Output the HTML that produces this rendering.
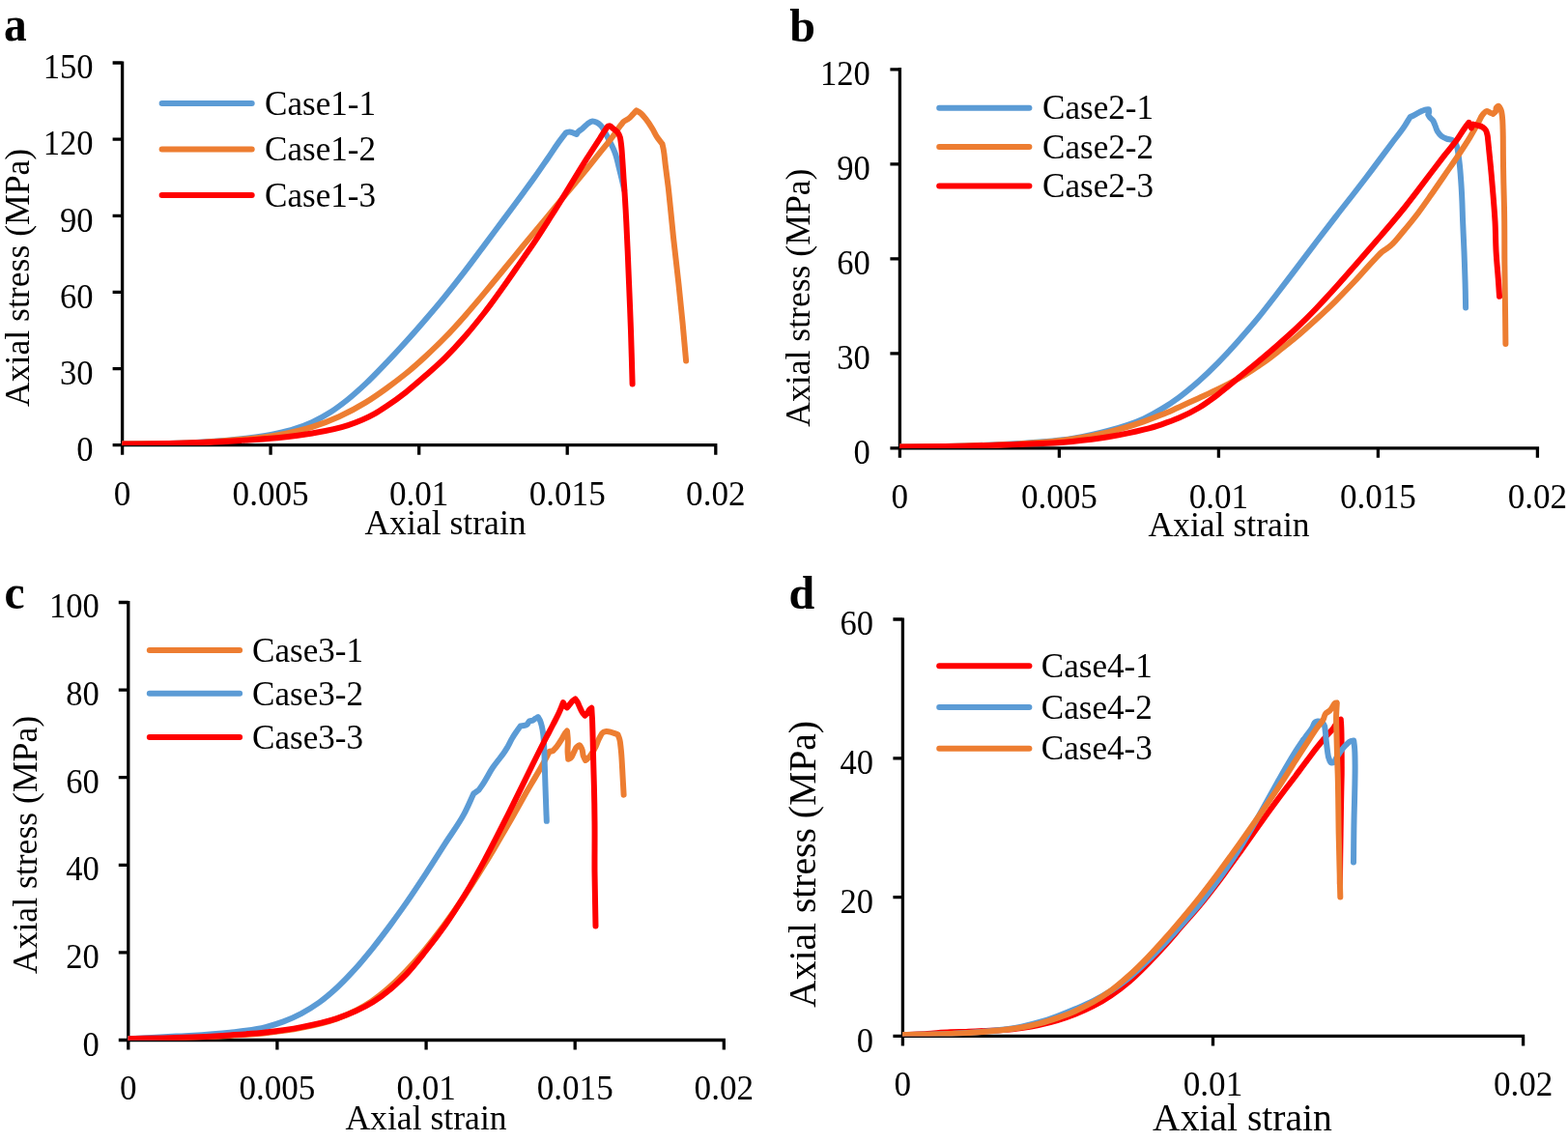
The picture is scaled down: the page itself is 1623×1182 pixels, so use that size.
<!DOCTYPE html>
<html lang="en">
<head>
<meta charset="utf-8">
<title>Axial stress versus axial strain curves</title>
<style>
html,body{margin:0;padding:0;background:#fff;}
body{width:1623px;height:1182px;overflow:hidden;}
svg{display:block;}
text{font-family:"Liberation Serif","Times New Roman",Times,serif;fill:#000;}
.ax{stroke:#000;stroke-width:3.3;fill:none;stroke-linecap:butt;}
.cv{fill:none;stroke-width:6;stroke-linecap:round;stroke-linejoin:round;}
.lt{font-weight:bold;font-size:48px;}
</style>
</head>
<body>
<svg width="1623" height="1182" viewBox="0 0 1623 1182" role="img" aria-label="Axial stress versus axial strain curves for four groups of cases">
<rect x="0" y="0" width="1623" height="1182" fill="#ffffff"/>
<g id="panel-a">
<path class="ax" d="M126.6 63.4V470.7M116.6 460.7H742.4M116.6 381.6H126.6M116.6 302.4H126.6M116.6 223.3H126.6M116.6 144.1H126.6M116.6 65H126.6M280.1 460.7V470.7M433.7 460.7V470.7M587.2 460.7V470.7M740.8 460.7V470.7"/>
<clipPath id="clip-a"><rect x="126.3" y="45" width="654.2" height="415.9"/></clipPath>
<g clip-path="url(#clip-a)">
<path class="cv" stroke="#5B9BD5" d="M126.6 459.6C149.1 459.2 171.6 459.5 194 458.4C212.7 457.5 231.4 456.5 250 454.3C262.2 452.8 274.4 451.5 286.4 448.8C292.6 447.4 298.9 445.9 305 443.9C311.2 441.9 317.4 439.6 323.3 436.9C329.7 433.9 335.9 430.6 341.8 426.8C348.1 422.8 354.1 418.2 360 413.5C366.5 408.3 372.7 402.6 378.8 396.9C386.1 390 393 382.7 400 375.4C406.9 368.2 413.6 360.9 420.3 353.5C427.2 346 433.9 338.3 440.6 330.5C446.8 323.3 452.9 316.1 458.9 308.8C466.5 299.5 473.9 290.1 481.2 280.6C488.1 271.7 494.7 262.6 501.5 253.6C508.3 244.5 515 235.5 521.8 226.4C528.6 217.3 535.4 208.2 542.1 199C545.9 193.8 549.8 188.6 553.5 183.3C558.1 176.8 562.6 170.2 567.1 163.7C571.6 157.2 575.8 150.4 580.6 144.1C582.4 141.7 584.2 139.4 586 137.1C587.1 136.9 588.3 136.4 589.4 136.4C590.8 136.4 592.2 137.1 593.5 137.6C594.6 138 595.7 138.5 596.8 139C597.5 138 598.1 136.9 598.9 136C599.8 135 601.1 134.4 602.2 133.6C604.1 132.1 605.7 130 607.7 128.6C609.4 127.4 611.2 125.6 613.1 125.5C614.6 125.4 616.4 126.1 617.8 126.8C619.3 127.5 620.7 128.7 621.9 129.9C624 131.9 625.1 134.8 626.6 137.4C628.1 140 629.3 142.8 630.7 145.5C632 148.2 633.5 150.8 634.7 153.6C635.7 155.8 636.6 158.1 637.4 160.4C638.9 164.8 639.7 169.4 640.8 173.9C641.7 177.5 642.6 181.1 643.5 184.7C644.5 188.8 645.3 192.8 646.2 196.9"/>
<path class="cv" stroke="#ED7D31" d="M126.6 459.6C149.1 459.2 171.6 459.5 194 458.5C212.7 457.7 231.4 456.7 250 454.8C262.2 453.6 274.4 452.5 286.4 450.4C298.8 448.2 311.3 445.6 323.3 441.8C332.7 438.8 342 435.3 351 431.2C360.5 426.9 369.9 421.9 378.8 416.4C386.1 411.9 393.1 407 400 402C406.9 397 413.7 391.8 420.3 386.5C427.3 380.8 434 374.8 440.6 368.7C447.5 362.3 454.3 355.8 460.9 349C467.9 341.9 474.6 334.4 481.2 326.9C488.1 319.1 494.8 311.1 501.5 303.1C508.3 294.9 515.1 286.7 521.8 278.5C528.6 270.2 535.3 261.9 542.1 253.6C550.4 243.6 558.8 233.6 567.1 223.6C571.6 218.1 576.1 212.7 580.6 207.2C585.1 201.8 589.6 196.4 594.1 191C598.6 185.5 603.2 180 607.7 174.5C612.2 168.9 616.7 163.3 621.2 157.7C625.7 152 630.4 146.5 634.7 140.7C637.5 136.9 639.9 132.9 642.8 129.2C643.7 128.1 644.5 126.9 645.5 125.9C647.1 124.4 649.3 123.9 651 122.5C652.5 121.3 653.7 119.8 655 118.4C656.3 117.1 657.5 115.7 658.8 114.4C660.2 115.3 661.8 116.1 663.1 117.1C665.2 118.8 666.8 121.1 668.5 123.2C671 126.4 673.2 129.8 675.3 133.3C677.2 136.4 678.6 139.8 680.7 142.8C682.2 144.9 683.9 146.9 685.5 148.9C685.9 150.9 686.4 153 686.8 155C687.8 160.3 688.1 165.8 688.8 171.2C689.7 178.4 690.7 185.6 691.6 192.8C692.6 201.4 693.4 210 694.3 218.6C695.2 227.6 696.1 236.6 697 245.6C698.7 261.8 700.8 278.1 702.5 294.3C703.9 307.7 705.3 321.1 706.6 334.5C707.8 347.5 708.9 360.5 710.1 373.5"/>
<path class="cv" stroke="#FF0000" d="M126.6 459.6C149.1 459.3 171.5 459.3 194 458.6C212.5 458 230.9 457.1 249.4 455.9C261.7 455.2 274.1 454.5 286.4 453.3C298.7 452 311.1 450.7 323.3 448.5C335.7 446.3 348.4 444.1 360.3 440.1C369.8 436.9 379.3 433 388 428.1C392.1 425.8 396.1 423.1 400 420.5C407 415.9 413.7 411 420.3 405.8C427.3 400.3 433.9 394.5 440.6 388.6C447.5 382.5 454.4 376.5 460.9 370.1C468 363.1 474.7 355.8 481.2 348.3C488.2 340.3 494.9 331.9 501.5 323.5C508.5 314.5 515.2 305.1 521.8 295.8C528.7 286.2 535.3 276.3 542.1 266.6C546.1 260.7 550.3 255 554.2 249.1C558.6 242.5 562.8 235.8 567.1 229.1C571.6 222 576.2 214.9 580.6 207.7C585.2 200.4 589.6 192.9 594.1 185.6C598.6 178.3 603.1 170.9 607.7 163.7C612.1 156.7 616.7 149.8 621.2 142.8C623.2 139.6 625 136.2 627.3 133.3C628 132.4 628.6 131 629.6 130.6C630.1 130.4 630.7 130.3 631.2 130.3C632.6 130.3 633.5 132.2 634.7 133.1C636.3 134.4 638.3 135.5 639.5 137.2C640.5 138.6 641.3 140.4 641.8 142.1C642.4 144 642.5 146.2 642.8 148.2C643.6 153.6 643.8 159 644.2 164.4C644.7 171.2 645.1 177.9 645.5 184.7C646 191.5 646.5 198.2 646.9 205C647.4 213.3 647.9 221.7 648.3 230C649.4 251.4 650.2 272.9 651.1 294.3C651.8 310.4 652.4 326.4 653 342.5C653.6 360.8 654.1 379.2 654.6 397.5"/>
</g>
<text transform="translate(96.6 476.9) scale(0.96 1)" font-size="36" text-anchor="end">0</text>
<text transform="translate(96.6 397.8) scale(0.96 1)" font-size="36" text-anchor="end">30</text>
<text transform="translate(96.6 318.6) scale(0.96 1)" font-size="36" text-anchor="end">60</text>
<text transform="translate(96.6 239.5) scale(0.96 1)" font-size="36" text-anchor="end">90</text>
<text transform="translate(96.6 160.3) scale(0.96 1)" font-size="36" text-anchor="end">120</text>
<text transform="translate(96.6 81.2) scale(0.96 1)" font-size="36" text-anchor="end">150</text>
<text transform="translate(126.6 523.4) scale(0.975 1)" font-size="36" text-anchor="middle">0</text>
<text transform="translate(280.1 523.4) scale(0.975 1)" font-size="36" text-anchor="middle">0.005</text>
<text transform="translate(433.7 523.4) scale(0.975 1)" font-size="36" text-anchor="middle">0.01</text>
<text transform="translate(587.2 523.4) scale(0.975 1)" font-size="36" text-anchor="middle">0.015</text>
<text transform="translate(740.8 523.4) scale(0.975 1)" font-size="36" text-anchor="middle">0.02</text>
<text transform="translate(461 553.4) scale(0.99 1)" font-size="36" text-anchor="middle">Axial strain</text>
<text transform="translate(29.8 287.4) rotate(-90) scale(0.99 1)" font-size="36" text-anchor="middle">Axial stress (MPa)</text>
<path class="cv" stroke="#5B9BD5" d="M167.6 106.9H260.7"/>
<text transform="translate(274 119) scale(0.975 1)" font-size="36">Case1-1</text>
<path class="cv" stroke="#ED7D31" d="M167.6 154.6H260.7"/>
<text transform="translate(274 166.4) scale(0.975 1)" font-size="36">Case1-2</text>
<path class="cv" stroke="#FF0000" d="M167.6 202H260.7"/>
<text transform="translate(274 213.7) scale(0.975 1)" font-size="36">Case1-3</text>
<text transform="translate(3.9 42.2) scale(0.95 1)" class="lt" style="font-size:50px">a</text>
</g>
<g id="panel-b">
<path class="ax" d="M931.4 70.1V473.8M921.4 463.8H1593.1M921.4 365.8H931.4M921.4 267.8H931.4M921.4 169.8H931.4M921.4 71.8H931.4M1096.4 463.8V473.8M1261.4 463.8V473.8M1426.4 463.8V473.8M1591.4 463.8V473.8"/>
<clipPath id="clip-b"><rect x="931.1" y="51.8" width="700" height="412.2"/></clipPath>
<g clip-path="url(#clip-b)">
<path class="cv" stroke="#5B9BD5" d="M931.4 462.6C953.9 462.2 976.4 462.2 998.9 461.5C1017.4 460.9 1035.9 460.4 1054.4 459.1C1072.9 457.9 1091.5 457 1109.8 454C1122.2 451.9 1134.7 449.3 1146.8 446C1159.3 442.5 1172 438.9 1183.8 433.4C1190.1 430.5 1196.3 427.1 1202.3 423.4C1208.5 419.7 1214.5 415.6 1220.3 411.3C1227.3 406.1 1234 400.5 1240.6 394.7C1247.6 388.5 1254.3 382 1260.9 375.3C1267.9 368.2 1274.6 360.8 1281.2 353.4C1288.1 345.7 1294.9 337.9 1301.5 329.9C1308.5 321.4 1315.1 312.7 1321.8 304C1328.6 295.2 1335.4 286.3 1342.1 277.4C1348.9 268.5 1355.6 259.5 1362.4 250.5C1369.1 241.7 1375.9 232.9 1382.7 224.1C1388.4 216.7 1394.2 209.4 1400 202C1404.5 196.1 1409 190.4 1413.5 184.5C1418.1 178.5 1422.6 172.5 1427.1 166.4C1431.6 160.4 1436.1 154.3 1440.6 148.2C1445.1 142.2 1450 136.4 1454.1 130.1C1456 127.2 1457.7 124.2 1459.5 121.3C1460.9 120.6 1462.2 119.9 1463.6 119.2C1465.9 118 1468.1 116.6 1470.4 115.5C1471.9 114.8 1473.5 114 1475.1 113.6C1476.3 113.3 1477.6 113.3 1478.8 113.2C1478.9 114.1 1479.3 115 1479.2 115.9C1479.1 116.8 1478.5 117.7 1478.2 118.6C1478.7 119.5 1479.2 120.5 1479.8 121.3C1480.7 122.6 1482.3 123.4 1483.2 124.7C1484.2 126.1 1484.6 127.8 1485.3 129.4C1486.3 131.6 1486.7 134.2 1488 136.2C1489.1 137.9 1490.4 139.7 1492 140.9C1493.6 142.1 1495.5 142.9 1497.4 143.6C1499.6 144.5 1502.4 144.2 1504.2 145.6C1505.7 146.7 1506.8 148.7 1507.6 150.4C1508.8 152.8 1508.8 155.8 1509.3 158.5C1510.1 163 1510.5 167.5 1511 172C1511.6 177.4 1511.9 182.9 1512.3 188.3C1512.8 195.1 1513.1 201.8 1513.4 208.6C1513.7 215.4 1513.8 222.1 1514.1 228.9C1514.5 239.5 1515.1 250 1515.5 260.6C1516 274.1 1516.5 287.7 1516.8 301.2C1516.9 307 1517 312.7 1517.1 318.5"/>
<path class="cv" stroke="#ED7D31" d="M931.4 462.6C953.9 462.3 976.4 462.2 998.9 461.6C1017.4 461.1 1035.9 460.6 1054.4 459.4C1072.9 458.2 1091.5 457.2 1109.8 454.4C1122.2 452.5 1134.6 450.3 1146.8 447.3C1159.3 444.3 1171.7 440.5 1183.8 436.3C1190 434.1 1196.2 431.8 1202.3 429.3C1208.4 426.9 1214.3 424.1 1220.3 421.5C1227.1 418.4 1233.8 415.3 1240.6 412.2C1247.4 409 1254.2 405.9 1260.9 402.6C1267.7 399.3 1274.5 395.8 1281.2 392.1C1284.6 390.2 1288.1 388.4 1291.4 386.3C1294.8 384.2 1298.2 381.9 1301.5 379.6C1304.9 377.3 1308.4 375 1311.7 372.6C1315.1 370.1 1318.4 367.4 1321.8 364.8C1328.6 359.4 1335.5 354.1 1342.1 348.5C1349 342.7 1355.7 336.6 1362.4 330.5C1369.3 324.2 1376.1 317.9 1382.7 311.3C1389.6 304.5 1396.3 297.4 1403 290.3C1409.9 282.9 1416.4 275.1 1423.4 267.9C1425.7 265.5 1427.9 262.8 1430.5 260.7C1432.1 259.5 1433.8 258.4 1435.5 257.3C1437 256.1 1438.6 255 1440 253.8C1444.6 249.8 1448.1 244.7 1452.1 240C1457.4 233.7 1462.7 227.3 1467.7 220.7C1472.4 214.5 1476.8 208.1 1481.2 201.8C1485.8 195.3 1490.2 188.7 1494.7 182.2C1499.2 175.6 1503.9 169.1 1508.3 162.5C1512.9 155.6 1517.5 148.7 1521.8 141.6C1524.6 136.9 1527.2 132.1 1529.9 127.4C1531.7 124.2 1532.8 120.5 1535.3 117.9C1536.3 116.8 1537.4 115 1538.7 114.9C1539.7 114.8 1541 116 1542.1 116.5C1543.2 117 1544.4 117.4 1545.5 117.9C1546.4 117 1547.6 116.3 1548.2 115.2C1548.8 114.1 1548.1 112.4 1548.8 111.4C1549.3 110.7 1550.3 109.9 1550.9 109.8C1552 109.6 1552.9 112.4 1553.6 113.8C1554.5 115.9 1554.6 118.3 1554.9 120.6C1555.5 125.1 1555.4 129.6 1555.6 134.1C1555.9 143.1 1555.8 152.2 1555.9 161.2C1556 170.2 1556.1 179.3 1556.3 188.3C1556.5 197.3 1556.8 206.3 1557 215.3C1557.4 234.9 1557.2 254.5 1557.4 274.1C1557.6 292.2 1557.9 310.2 1558.1 328.3C1558.2 337.5 1558.3 346.8 1558.4 356"/>
<path class="cv" stroke="#FF0000" d="M931.4 462.6C953.9 462.3 976.4 462.2 998.9 461.7C1017.4 461.3 1035.9 460.7 1054.4 460C1072.9 459.2 1091.4 458.7 1109.8 456.9C1122.2 455.7 1134.5 454.3 1146.8 452.3C1159.2 450.2 1171.6 447.9 1183.8 444.7C1190 443.1 1196.2 441.4 1202.3 439.3C1208.4 437.3 1214.4 435.2 1220.3 432.6C1227.3 429.6 1234.1 426.2 1240.6 422.3C1244.1 420.2 1247.5 417.9 1250.8 415.5C1254.2 413.1 1257.6 410.7 1260.9 408.1C1267.9 402.9 1274.4 397.1 1281.2 391.6C1288 386.1 1294.8 380.6 1301.5 375C1308.3 369.3 1315.1 363.6 1321.8 357.7C1328.7 351.7 1335.5 345.7 1342.1 339.5C1349 332.9 1355.8 326.1 1362.4 319.2C1369.3 312.1 1376 304.7 1382.7 297.3C1389.6 289.7 1396.3 281.9 1403 274.2C1409.8 266.4 1416.6 258.6 1423.4 250.8C1428.9 244.4 1434.5 238 1440 231.5C1444.8 225.9 1449.5 220.2 1454.1 214.5C1458.7 208.7 1463.2 202.8 1467.7 196.9C1472.2 191 1476.7 185 1481.2 179C1485.7 173.1 1490.2 167.2 1494.7 161.4C1499.2 155.7 1504.1 150.2 1508.3 144.3C1511.1 140.3 1513.5 136 1516.4 132.1C1517.7 130.3 1519.1 128.6 1520.4 126.8C1521.2 128.7 1522.1 130.5 1522.9 132.4C1523.5 131.1 1524 129.9 1524.6 128.6C1526.4 129 1528.2 129.4 1530 129.9C1531.6 130.4 1533.3 130.7 1534.6 131.6C1535.9 132.4 1537.1 133.5 1537.9 134.8C1538.8 136.2 1539.1 138 1539.5 139.6C1540 141.7 1540.1 143.9 1540.3 146C1540.7 149.7 1541 153.4 1541.4 157.1C1542.1 163.9 1542.8 170.6 1543.4 177.4C1544.2 185.5 1544.8 193.7 1545.5 201.8C1546.2 210.8 1547 219.9 1547.5 228.9C1548.1 239.5 1548 250 1548.6 260.6C1549.1 269.6 1550 278.7 1550.7 287.7C1551.2 294.1 1551.6 300.4 1552 306.8"/>
</g>
<text transform="translate(900.8 480) scale(0.96 1)" font-size="36" text-anchor="end">0</text>
<text transform="translate(900.8 382) scale(0.96 1)" font-size="36" text-anchor="end">30</text>
<text transform="translate(900.8 284) scale(0.96 1)" font-size="36" text-anchor="end">60</text>
<text transform="translate(900.8 186) scale(0.96 1)" font-size="36" text-anchor="end">90</text>
<text transform="translate(900.8 88) scale(0.96 1)" font-size="36" text-anchor="end">120</text>
<text transform="translate(931.4 525.9) scale(0.975 1)" font-size="36" text-anchor="middle">0</text>
<text transform="translate(1096.4 525.9) scale(0.975 1)" font-size="36" text-anchor="middle">0.005</text>
<text transform="translate(1261.4 525.9) scale(0.975 1)" font-size="36" text-anchor="middle">0.01</text>
<text transform="translate(1426.4 525.9) scale(0.975 1)" font-size="36" text-anchor="middle">0.015</text>
<text transform="translate(1591.4 525.9) scale(0.975 1)" font-size="36" text-anchor="middle">0.02</text>
<text transform="translate(1272 554.8) scale(0.99 1)" font-size="36" text-anchor="middle">Axial strain</text>
<text transform="translate(838 308.2) rotate(-90) scale(0.99 1)" font-size="36" text-anchor="middle">Axial stress (MPa)</text>
<path class="cv" stroke="#5B9BD5" d="M972.2 111.7H1065.4"/>
<text transform="translate(1079 123.4) scale(0.975 1)" font-size="36">Case2-1</text>
<path class="cv" stroke="#ED7D31" d="M972.2 151.9H1065.4"/>
<text transform="translate(1079 164.1) scale(0.975 1)" font-size="36">Case2-2</text>
<path class="cv" stroke="#FF0000" d="M972.2 192.4H1065.4"/>
<text transform="translate(1079 204.4) scale(0.975 1)" font-size="36">Case2-3</text>
<text transform="translate(817.3 42.8)" class="lt">b</text>
</g>
<g id="panel-c">
<path class="ax" d="M132.8 621.9V1086.5M122.8 1076.5H750.9M122.8 985.9H132.8M122.8 895.3H132.8M122.8 804.7H132.8M122.8 714.1H132.8M122.8 623.5H132.8M286.9 1076.5V1086.5M441.1 1076.5V1086.5M595.2 1076.5V1086.5M749.3 1076.5V1086.5"/>
<clipPath id="clip-c"><rect x="132.5" y="603.5" width="656.5" height="473.2"/></clipPath>
<g clip-path="url(#clip-c)">
<path class="cv" stroke="#ED7D31" d="M132.8 1075.2C149.4 1074.9 165.9 1074.7 182.5 1074.2C201 1073.6 219.5 1073 237.9 1071.9C250.2 1071.1 262.6 1070.6 274.9 1069.2C287.2 1067.9 299.6 1066.4 311.8 1063.9C324.3 1061.4 336.9 1058.8 348.8 1054.4C361.2 1049.7 373.5 1043.8 384.5 1036.4C390.8 1032.2 396.8 1027.3 402.5 1022.3C408.2 1017.3 413.5 1011.9 418.8 1006.5C425.9 999.3 432.6 991.7 439.1 983.9C446.2 975.5 452.8 966.7 459.4 957.9C466.4 948.4 473.1 938.8 479.7 929C486.7 918.6 493.4 907.9 500 897.2C503.6 891.4 507.2 885.6 510.7 879.7C513.4 875.1 516.1 870.4 518.8 865.8C522.2 859.9 525.6 854.1 529 848.2C532.4 842.2 535.7 836.2 539.1 830.2C542.6 824 546.1 817.9 549.7 811.8C553.2 805.7 557 799.7 560.4 793.5C562.4 789.9 564.4 786.3 566.3 782.6C567.1 781.1 567.8 779.5 568.6 778C569.9 777.7 571.3 777.3 572.6 777C573.8 775.6 575.1 774.2 576.2 772.8C578 770.5 579.7 767.9 581.2 765.4C582.3 763.5 583.1 761.5 584.4 759.7C585.2 758.6 586.1 757.6 587 756.5C587.3 759.7 587.7 762.8 587.8 766C588 770.2 587.4 774.5 587.6 778.7C587.7 781 588 783.4 588.2 785.7C589.1 785.3 590.1 785 590.8 784.4C592.5 783.1 592.9 780.6 593.9 778.7C595 776.8 595.5 774.4 597.1 773C597.8 772.3 598.9 771.3 599.6 771.3C600.7 771.3 601.5 773.6 602.2 774.9C603.4 777.2 602.9 780.1 603.8 782.5C604.4 784.1 605.3 785.5 606 787C606.8 786.3 607.7 785.7 608.5 785C609.7 783.9 610.7 782.5 611.7 781.2C613.7 778.5 615.3 775.4 616.8 772.4C618.2 769.5 619 766.3 620.6 763.5C621.7 761.5 622.5 758.8 624.4 757.8C625.3 757.3 626.5 757 627.6 756.9C629.5 756.7 631.4 757.6 633.3 758.1C635.4 758.7 637.5 759.6 639.6 760.3C640.2 762.2 641 764.1 641.5 766C642.3 769.3 642.4 772.8 642.8 776.2C643.5 782.5 643.7 788.9 644.1 795.2C644.4 800.7 644.7 806.2 645 811.7C645.2 815.4 645.4 819 645.6 822.7"/>
<path class="cv" stroke="#5B9BD5" d="M132.8 1075.2C149.4 1074.3 165.9 1073.6 182.5 1072.6C201 1071.5 219.5 1070.9 237.9 1068.7C250.3 1067.3 262.8 1066.2 274.9 1063.1C281.1 1061.5 287.4 1059.7 293.4 1057.4C299.7 1055 305.9 1052.2 311.8 1049.1C318.2 1045.7 324.4 1041.8 330.3 1037.6C336.8 1032.9 342.9 1027.6 348.8 1022.2C355.3 1016.2 361.4 1009.8 367.3 1003.3C373.7 996.2 379.8 988.7 385.8 981.3C392.2 973.3 398.3 965.2 404.3 957.1C409.8 949.6 415.3 942 420.6 934.4C427.5 924.4 434.2 914.3 440.9 904.1C447.8 893.6 454.4 883 461.2 872.4C467.5 862.7 474.5 853.4 480 843.2C483.8 836.2 486.8 828.7 490.2 821.5C492 820.2 493.8 818.9 495.6 817.6C497.2 815.3 498.8 813.1 500.3 810.8C504 805.3 506.7 799.2 510.5 793.8C512.2 791.3 514.2 788.9 516 786.5C517.7 784.3 519.4 782.2 521 780C522.7 777.6 524.2 775.1 525.7 772.6C527.4 769.6 528.7 766.4 530.5 763.5C532 760.9 533.8 758.4 535.5 755.9C536.5 754.4 537.6 752.9 538.7 751.4C539.8 751.3 540.8 751.2 541.9 751C543 750.8 544.2 750.6 545.1 750.1C546.5 749.3 546.8 747 548.2 746.3C549.1 745.8 550.4 746.1 551.4 745.7C552.4 745.3 553.1 744.4 554 743.8C554.9 743.2 555.9 742.7 556.9 742.1C557.6 743.3 558.4 744.4 559 745.7C559.9 747.7 560.4 749.9 560.9 752C561.5 754.5 561.9 757.1 562.2 759.7C562.7 763.5 562.9 767.3 563.1 771.1C563.5 777 563.5 783 563.7 788.9C564 797.3 564.2 805.8 564.5 814.2C564.8 822.7 565.1 831.1 565.4 839.6C565.5 843 565.7 846.4 565.8 849.8"/>
<path class="cv" stroke="#FF0000" d="M132.8 1075.2C149.4 1074.8 165.9 1074.6 182.5 1074C201 1073.4 219.5 1072.7 237.9 1071.4C250.2 1070.6 262.6 1069.9 274.9 1068.5C287.2 1067.1 299.6 1065.5 311.8 1063.1C324.2 1060.7 336.8 1058.2 348.8 1054.1C361.6 1049.7 374.4 1044.4 385.8 1037.3C392.3 1033.2 398.4 1028.6 404.3 1023.7C410 1018.9 415.4 1013.6 420.6 1008.3C427.9 1000.7 434.3 992.3 440.9 984C447.9 975.2 454.7 966.2 461.2 957C468.4 946.7 475 936.2 481.5 925.5C488.6 913.8 495.3 901.9 501.8 889.8C503.5 886.6 505.2 883.4 506.9 880.1C511.5 871.3 516.1 862.3 520.6 853.4C524 846.6 527.4 839.9 530.8 833.1C534.2 826.3 537.5 819.4 540.9 812.6C544.3 805.7 547.7 798.8 551.1 791.8C555.2 783.5 559.3 775.2 563.5 767C566.4 761.3 569.5 755.7 572.4 750C574.5 745.9 576.8 741.8 578.7 737.6C579.7 735.3 580.7 733 581.6 730.6C582 729.4 582.5 728.3 582.9 727.1C583.6 728.2 584.1 729.5 585 730.5C585.6 731.2 586.3 731.8 587 732.4C588 731.1 589.1 729.9 590.1 728.6C591 727.5 591.7 726.3 592.7 725.4C593.5 724.7 594.6 724.1 595.5 723.5C596.2 724.6 597 725.6 597.7 726.7C598.8 728.5 599.4 730.5 600.3 732.4C601.1 734.1 601.8 735.9 602.8 737.4C603.6 738.5 604.5 739.5 605.4 740.6C606.2 739.8 607.2 739 607.9 738.1C608.7 737.1 609 735.8 609.8 734.9C610.5 734.1 611.5 733.4 612.3 732.7C612.5 736.6 612.8 740.5 613 744.4C613.3 750.8 613.4 757.1 613.6 763.5C613.8 772 614 780.4 614.2 788.9C614.4 797.3 614.7 805.8 614.9 814.2C615.2 826.1 615.4 838.1 615.5 850C615.7 867.3 615.4 884.5 615.5 901.8C615.7 920.7 616.2 939.6 616.5 958.5"/>
</g>
<text transform="translate(102.8 1092.9) scale(0.96 1)" font-size="36" text-anchor="end">0</text>
<text transform="translate(102.8 1002.1) scale(0.96 1)" font-size="36" text-anchor="end">20</text>
<text transform="translate(102.8 911.3) scale(0.96 1)" font-size="36" text-anchor="end">40</text>
<text transform="translate(102.8 820.5) scale(0.96 1)" font-size="36" text-anchor="end">60</text>
<text transform="translate(102.8 729.7) scale(0.96 1)" font-size="36" text-anchor="end">80</text>
<text transform="translate(102.8 638.9) scale(0.96 1)" font-size="36" text-anchor="end">100</text>
<text transform="translate(132.8 1137.9) scale(0.975 1)" font-size="36" text-anchor="middle">0</text>
<text transform="translate(286.9 1137.9) scale(0.975 1)" font-size="36" text-anchor="middle">0.005</text>
<text transform="translate(441.1 1137.9) scale(0.975 1)" font-size="36" text-anchor="middle">0.01</text>
<text transform="translate(595.2 1137.9) scale(0.975 1)" font-size="36" text-anchor="middle">0.015</text>
<text transform="translate(749.3 1137.9) scale(0.975 1)" font-size="36" text-anchor="middle">0.02</text>
<text transform="translate(441 1169) scale(0.99 1)" font-size="36" text-anchor="middle">Axial strain</text>
<text transform="translate(38.2 874.5) rotate(-90) scale(0.99 1)" font-size="36" text-anchor="middle">Axial stress (MPa)</text>
<path class="cv" stroke="#ED7D31" d="M154.8 672.9H248.1"/>
<text transform="translate(261 684.7) scale(0.975 1)" font-size="36">Case3-1</text>
<path class="cv" stroke="#5B9BD5" d="M154.8 717.8H248.1"/>
<text transform="translate(261 730.2) scale(0.975 1)" font-size="36">Case3-2</text>
<path class="cv" stroke="#FF0000" d="M154.8 763.1H248.1"/>
<text transform="translate(261 775.2) scale(0.975 1)" font-size="36">Case3-3</text>
<text transform="translate(4.6 629.6) scale(0.95 1)" class="lt" style="font-size:50px">c</text>
</g>
<g id="panel-d">
<path class="ax" d="M934.4 639.4V1082.4M924.4 1072.4H1578.2M924.4 928.6H934.4M924.4 784.8H934.4M924.4 641H934.4M1255.5 1072.4V1082.4M1576.6 1072.4V1082.4"/>
<clipPath id="clip-d"><rect x="934.1" y="621" width="682.2" height="451.6"/></clipPath>
<g clip-path="url(#clip-d)">
<path class="cv" stroke="#FF0000" d="M934.5 1071.1C943 1070.7 951.5 1070.5 960 1070C967.8 1069.5 975.7 1068.6 983.5 1068.3C989 1068 994.5 1068.1 1000 1067.9C1006.8 1067.7 1013.6 1067.3 1020.4 1067C1025.3 1066.8 1030.1 1066.6 1035 1066.3C1042.5 1065.7 1050 1065.1 1057.4 1064C1069.9 1062.2 1082.3 1059.7 1094.4 1056.1C1100.6 1054.2 1106.8 1052.1 1112.8 1049.7C1119.1 1047.2 1125.3 1044.5 1131.3 1041.4C1137.7 1038.1 1143.9 1034.4 1149.8 1030.4C1156.2 1026.2 1162.4 1021.4 1168.3 1016.4C1174.8 1010.9 1180.8 1004.8 1186.8 998.8C1193.1 992.4 1199.3 985.8 1205.3 979.2C1211.6 972.2 1217.6 965 1223.8 957.9C1229.4 951.5 1235.1 945.2 1240.6 938.6C1247.6 930.2 1254.3 921.6 1260.9 912.9C1267.8 903.7 1274.5 894.4 1281.2 885.1C1288.2 875.4 1294.9 865.6 1301.8 855.9C1308.6 846.4 1315.5 836.9 1322.5 827.5C1328.6 819.1 1335 811 1341.3 802.7C1344.7 798.1 1348.2 793.5 1351.6 788.8C1355.1 784.3 1358.4 779.7 1361.9 775.2C1365.3 770.9 1368.7 766.5 1372.3 762.4C1374.8 759.5 1377.7 756.9 1380.1 753.8C1381.9 751.5 1382.9 748.6 1385 746.7C1385.9 746 1386.9 745.4 1387.8 744.7C1387.9 746.7 1388.1 748.8 1388.2 750.8C1388.6 757.6 1388.5 764.3 1388.6 771.1C1388.7 781.2 1388.8 791.4 1388.7 801.5C1388.6 807.7 1388.4 813.8 1388.3 820C1388 834.3 1387.8 848.7 1387.6 863C1387.3 880.3 1387.1 897.7 1386.9 915"/>
<path class="cv" stroke="#5B9BD5" d="M934.5 1071.1C950.8 1070.7 967.2 1070.6 983.5 1069.9C995.8 1069.3 1008.1 1068.8 1020.4 1067.6C1032.8 1066.5 1045.3 1065.4 1057.4 1062.8C1063.6 1061.4 1069.8 1059.8 1075.9 1058C1082.2 1056.1 1088.4 1053.9 1094.5 1051.7C1100.8 1049.4 1107 1046.9 1113.1 1044.3C1119.3 1041.6 1125.6 1038.9 1131.7 1035.8C1138.1 1032.5 1144.4 1029 1150.4 1025.2C1156.9 1021.1 1163.1 1016.5 1169.1 1011.7C1175.6 1006.4 1181.8 1000.5 1187.8 994.7C1194.2 988.5 1200.3 982.1 1206.4 975.7C1212.7 968.9 1218.9 961.9 1225 955C1230.7 948.6 1236.4 942.2 1241.9 935.6C1249 927 1255.7 918.1 1262.3 909.1C1269.4 899.3 1276.2 889.1 1282.7 878.8C1290 867.3 1296.7 855.3 1303.5 843.5C1309.9 832.2 1316 820.8 1322.4 809.5C1325.8 803.4 1329.2 797.2 1332.8 791.2C1336.2 785.5 1339.5 779.9 1343.1 774.4C1344.8 771.8 1346.5 769.2 1348.3 766.6C1350 764.3 1351.8 762.2 1353.5 759.9C1355.2 757.6 1357 755.3 1358.5 752.8C1359.6 751.1 1359.7 748.4 1361.4 747.4C1362.1 747 1363 746.7 1363.8 746.6C1364.8 746.5 1366 746.5 1367 746.9C1368.3 747.4 1369.5 748.6 1370.3 749.7C1371.7 751.6 1371.4 754.5 1371.8 756.9C1372.3 760.2 1372.4 763.6 1372.8 767C1373.2 770.4 1373.5 773.8 1374 777.2C1374.4 779.9 1374.5 782.8 1375.6 785.3C1376.2 786.7 1376.6 788.9 1377.9 789.3C1378.5 789.5 1379.3 789.4 1379.9 789.3C1381.8 788.9 1382.3 785.8 1383.5 784C1385 781.7 1386.4 779.4 1388 777.2C1389.6 775.1 1391.2 772.9 1393.1 771.1C1394.7 769.6 1396.2 767.7 1398.2 767C1399.1 766.7 1400.2 766.7 1401.2 766.5C1401.5 768.7 1401.8 770.9 1402 773.1C1402.6 779.2 1402.5 785.3 1402.6 791.4C1402.7 798.2 1402.5 804.9 1402.4 811.7C1402.3 817.8 1402.1 823.9 1402 830C1401.8 836.9 1401.6 843.9 1401.5 850.8C1401.2 864.7 1401.2 878.6 1401 892.5"/>
<path class="cv" stroke="#ED7D31" d="M934.5 1071.1C950.8 1070.7 967.2 1070.6 983.5 1069.9C995.8 1069.4 1008.1 1068.9 1020.4 1067.8C1032.8 1066.7 1045.2 1065.7 1057.4 1063.4C1063.6 1062.3 1069.8 1060.9 1075.9 1059.3C1082.2 1057.7 1088.4 1055.7 1094.5 1053.6C1100.8 1051.4 1107 1049.1 1113 1046.4C1119.4 1043.6 1125.6 1040.5 1131.7 1037C1138.1 1033.3 1144.4 1029.2 1150.4 1024.8C1156.9 1020 1163.1 1014.7 1169.1 1009.3C1175.6 1003.5 1181.8 997.3 1187.8 991.1C1194.2 984.5 1200.3 977.7 1206.4 970.8C1212.7 963.7 1218.9 956.4 1225 949.1C1230.7 942.3 1236.4 935.4 1241.9 928.5C1248.9 919.7 1255.6 910.8 1262.3 901.8C1269.3 892.4 1276 882.9 1282.8 873.4C1289.7 863.7 1296.6 853.9 1303.5 844C1309.8 834.8 1316.1 825.7 1322.3 816.3C1325.8 811 1329.3 805.7 1332.7 800.3C1336.2 794.9 1339.5 789.5 1343 784.2C1346.4 778.8 1349.9 773.4 1353.4 768.1C1356.8 762.9 1360 757.8 1363.6 752.8C1365.6 750.1 1368.2 747.7 1369.7 744.7C1370.6 742.9 1370.7 740.7 1371.8 739.1C1373 737.4 1375.5 736.6 1376.9 735C1378.1 733.7 1378.8 732 1379.9 730.5C1380.6 729.5 1381 728 1382.1 727.6C1382.6 727.4 1383.2 727.5 1383.8 727.4C1383.6 731.8 1383.2 736.2 1383.1 740.6C1382.9 747.4 1383.4 754.1 1383.5 760.9C1383.7 767.7 1383.8 774.4 1384 781.2C1384.2 788 1384.5 794.7 1384.7 801.5C1385.3 822.2 1385.3 842.8 1385.7 863.5C1386.1 885.2 1386.8 906.8 1387.3 928.5"/>
</g>
<text transform="translate(904 1088.6) scale(0.96 1)" font-size="36" text-anchor="end">0</text>
<text transform="translate(904 944.8) scale(0.96 1)" font-size="36" text-anchor="end">20</text>
<text transform="translate(904 801) scale(0.96 1)" font-size="36" text-anchor="end">40</text>
<text transform="translate(904 657.2) scale(0.96 1)" font-size="36" text-anchor="end">60</text>
<text transform="translate(934.4 1134.4) scale(0.975 1)" font-size="36" text-anchor="middle">0</text>
<text transform="translate(1255.5 1134.4) scale(0.975 1)" font-size="36" text-anchor="middle">0.01</text>
<text transform="translate(1576.6 1134.4) scale(0.975 1)" font-size="36" text-anchor="middle">0.02</text>
<text transform="translate(1286 1169.5) scale(0.99 1)" font-size="40" text-anchor="middle">Axial strain</text>
<text transform="translate(844.3 894.5) rotate(-90) scale(0.99 1)" font-size="40" text-anchor="middle">Axial stress (MPa)</text>
<path class="cv" stroke="#FF0000" d="M972.2 689.2H1065.4"/>
<text transform="translate(1077.8 701) scale(0.975 1)" font-size="36">Case4-1</text>
<path class="cv" stroke="#5B9BD5" d="M972.2 731.9H1065.4"/>
<text transform="translate(1077.8 743.9) scale(0.975 1)" font-size="36">Case4-2</text>
<path class="cv" stroke="#ED7D31" d="M972.2 774.7H1065.4"/>
<text transform="translate(1077.8 786) scale(0.975 1)" font-size="36">Case4-3</text>
<text transform="translate(816.6 629.6)" class="lt">d</text>
</g>
</svg>
</body>
</html>
